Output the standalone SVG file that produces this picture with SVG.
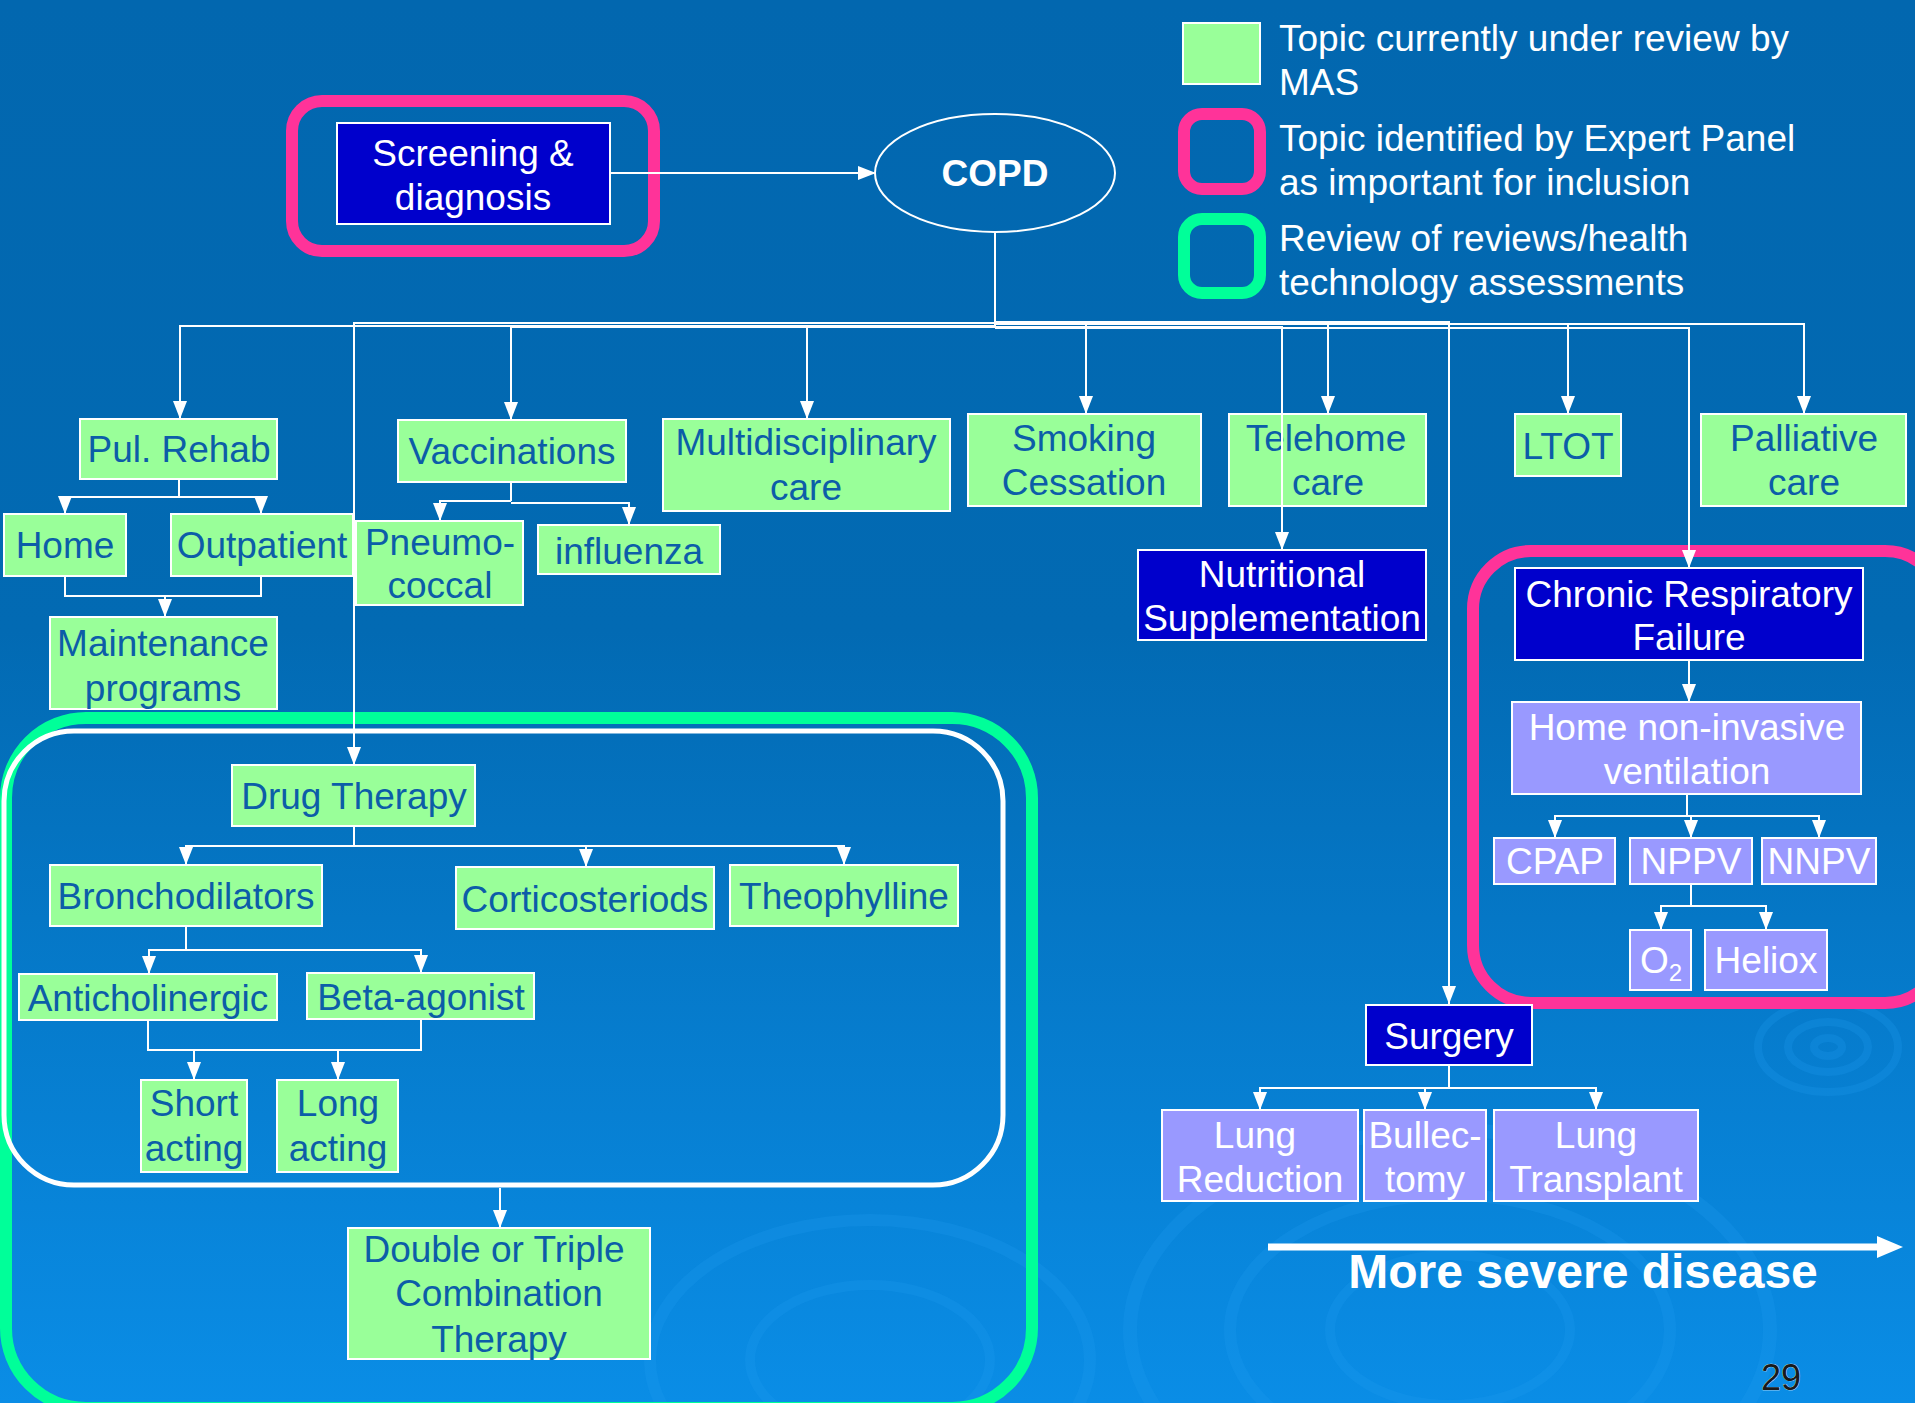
<svg xmlns="http://www.w3.org/2000/svg" width="1915" height="1403" viewBox="0 0 1915 1403">
<defs>
<linearGradient id="bg" x1="0" y1="0" x2="0" y2="1">
<stop offset="0" stop-color="#0267AF"/>
<stop offset="0.45" stop-color="#026AB3"/>
<stop offset="1" stop-color="#0A8DE6"/>
</linearGradient>
<marker id="ah" markerUnits="userSpaceOnUse" markerWidth="18" markerHeight="14" viewBox="0 0 18 14" refX="18" refY="7" orient="auto">
<path d="M0 0 L18 7 L0 14 Z" fill="#fff"/>
</marker>
<marker id="ar" markerUnits="userSpaceOnUse" markerWidth="18" markerHeight="14" viewBox="0 0 18 14" refX="18" refY="7" orient="auto">
<path d="M0 0 L18 7 L0 14 Z" fill="#fff"/>
</marker>
<style>
text{font-family:"Liberation Sans",Arial,sans-serif;font-size:37px;text-anchor:middle}
.g{fill:#99FF99;stroke:#fff;stroke-width:2}
.l{fill:#9999FF;stroke:#fff;stroke-width:2}
.d{fill:#0000CC;stroke:#fff;stroke-width:2}
.gt{fill:#0C5DA8}
.wt{fill:#fff}
.c{fill:none;stroke:#fff;stroke-width:2}
.cv{fill:none;stroke:#fff;stroke-width:2;marker-end:url(#ah)}
.lg{fill:#fff;text-anchor:start}
.big{font-size:48px;font-weight:bold}
.pg{font-size:36px;fill:#1a1a1a;stroke:#fff;stroke-width:0.6;paint-order:stroke}
.rip{fill:none;stroke:#1E9AF0;stroke-opacity:0.25}
</style>
</defs>
<rect x="0" y="0" width="1915" height="1403" fill="url(#bg)"/>
<g id="ripples">
<ellipse class="rip" cx="1828" cy="1047" rx="70" ry="45" stroke-width="8"/>
<ellipse class="rip" cx="1828" cy="1047" rx="40" ry="25" stroke-width="8"/>
<ellipse class="rip" cx="1828" cy="1047" rx="14" ry="9" stroke-width="8"/>
<ellipse class="rip" cx="1450" cy="1330" rx="320" ry="200" stroke-width="14"/>
<ellipse class="rip" cx="1450" cy="1330" rx="220" ry="135" stroke-width="12"/>
<ellipse class="rip" cx="1450" cy="1330" rx="120" ry="75" stroke-width="10"/>
<ellipse class="rip" cx="870" cy="1360" rx="220" ry="140" stroke-width="12"/>
<ellipse class="rip" cx="870" cy="1360" rx="120" ry="75" stroke-width="10"/>
</g>
<g id="legend">
<rect x="1183" y="23" width="77" height="61" fill="#99FF99" stroke="#fff" stroke-width="2"/>
<rect x="1184" y="114" width="76" height="75" rx="18" fill="none" stroke="#FF3399" stroke-width="12"/>
<rect x="1184" y="219" width="76" height="74" rx="18" fill="none" stroke="#00FF99" stroke-width="12"/>
<text class="lg" x="1279" y="51">Topic currently under review by</text>
<text class="lg" x="1279" y="95">MAS</text>
<text class="lg" x="1279" y="151">Topic identified by Expert Panel</text>
<text class="lg" x="1279" y="195">as important for inclusion</text>
<text class="lg" x="1279" y="251">Review of reviews/health</text>
<text class="lg" x="1279" y="295">technology assessments</text>
</g>
<g id="groups">
<rect x="292" y="101" width="362" height="150" rx="30" fill="none" stroke="#FF3399" stroke-width="12"/>
<rect x="1473" y="551" width="470" height="452" rx="58" fill="none" stroke="#FF3399" stroke-width="12"/>
<rect x="6" y="718" width="1026" height="690" rx="80" fill="none" stroke="#00FF99" stroke-width="12"/>
<rect x="4" y="731" width="999" height="454" rx="70" fill="none" stroke="#fff" stroke-width="5"/>
</g>
<g id="screening"><rect class="d" x="337" y="123" width="273" height="101"/><text class="wt" x="473" y="166">Screening &amp;</text><text class="wt" x="473" y="210">diagnosis</text></g>
<g id="copd"><ellipse cx="995" cy="173" rx="120" ry="59" fill="none" stroke="#fff" stroke-width="2"/><text class="wt" x="995" y="186" font-weight="bold">COPD</text></g>
<g id="pulrehab"><rect class="g" x="80" y="419" width="197" height="60"/><text class="gt" x="179" y="462">Pul. Rehab</text></g>
<g id="home"><rect class="g" x="4" y="514" width="122" height="62"/><text class="gt" x="65" y="558">Home</text></g>
<g id="outpatient"><rect class="g" x="171" y="514" width="182" height="62"/><text class="gt" x="262" y="558">Outpatient</text></g>
<g id="maintenance"><rect class="g" x="50" y="617" width="227" height="92"/><text class="gt" x="163" y="656">Maintenance</text><text class="gt" x="163" y="701">programs</text></g>
<g id="vaccinations"><rect class="g" x="398" y="420" width="228" height="62"/><text class="gt" x="512" y="464">Vaccinations</text></g>
<g id="pneumococcal"><rect class="g" x="356" y="521" width="167" height="84"/><text class="gt" x="440" y="555">Pneumo-</text><text class="gt" x="440" y="598">coccal</text></g>
<g id="influenza"><rect class="g" x="538" y="525" width="182" height="49"/><text class="gt" x="629" y="564">influenza</text></g>
<g id="multidisciplinary"><rect class="g" x="663" y="419" width="287" height="92"/><text class="gt" x="806" y="455">Multidisciplinary</text><text class="gt" x="806" y="500">care</text></g>
<g id="smoking"><rect class="g" x="968" y="414" width="233" height="92"/><text class="gt" x="1084" y="451">Smoking</text><text class="gt" x="1084" y="495">Cessation</text></g>
<g id="telehome"><rect class="g" x="1229" y="414" width="197" height="92"/><text class="gt" x="1326" y="451">Telehome</text><text class="gt" x="1328" y="495">care</text></g>
<g id="ltot"><rect class="g" x="1515" y="414" width="106" height="62"/><text class="gt" x="1568" y="459">LTOT</text></g>
<g id="palliative"><rect class="g" x="1701" y="414" width="205" height="92"/><text class="gt" x="1804" y="451">Palliative</text><text class="gt" x="1804" y="495">care</text></g>
<g id="nutritional"><rect class="d" x="1138" y="550" width="288" height="90"/><text class="wt" x="1282" y="587">Nutritional</text><text class="wt" x="1282" y="631">Supplementation</text></g>
<g id="crf"><rect class="d" x="1515" y="568" width="348" height="92"/><text class="wt" x="1689" y="607">Chronic Respiratory</text><text class="wt" x="1689" y="650">Failure</text></g>
<g id="hniv"><rect class="l" x="1512" y="702" width="349" height="92"/><text class="wt" x="1687" y="740">Home non-invasive</text><text class="wt" x="1687" y="784">ventilation</text></g>
<g id="cpap"><rect class="l" x="1494" y="838" width="121" height="46"/><text class="wt" x="1555" y="874">CPAP</text></g>
<g id="nppv"><rect class="l" x="1630" y="838" width="122" height="46"/><text class="wt" x="1691" y="874">NPPV</text></g>
<g id="nnpv"><rect class="l" x="1762" y="838" width="114" height="46"/><text class="wt" x="1819" y="874">NNPV</text></g>
<g id="o2"><rect class="l" x="1630" y="930" width="61" height="60"/><text class="wt" x="1661" y="973">O<tspan font-size="24" dy="8">2</tspan></text></g>
<g id="heliox"><rect class="l" x="1705" y="930" width="122" height="60"/><text class="wt" x="1766" y="973">Heliox</text></g>
<g id="surgery"><rect class="d" x="1366" y="1005" width="166" height="60"/><text class="wt" x="1449" y="1049">Surgery</text></g>
<g id="lungreduction"><rect class="l" x="1162" y="1110" width="196" height="91"/><text class="wt" x="1255" y="1148">Lung</text><text class="wt" x="1260" y="1192">Reduction</text></g>
<g id="bullectomy"><rect class="l" x="1364" y="1110" width="122" height="91"/><text class="wt" x="1425" y="1148">Bullec-</text><text class="wt" x="1425" y="1192">tomy</text></g>
<g id="lungtransplant"><rect class="l" x="1494" y="1110" width="204" height="91"/><text class="wt" x="1596" y="1148">Lung</text><text class="wt" x="1596" y="1192">Transplant</text></g>
<g id="drugtherapy"><rect class="g" x="232" y="765" width="243" height="61"/><text class="gt" x="354" y="809">Drug Therapy</text></g>
<g id="bronchodilators"><rect class="g" x="50" y="865" width="272" height="61"/><text class="gt" x="186" y="909">Bronchodilators</text></g>
<g id="corticosteriods"><rect class="g" x="456" y="867" width="258" height="62"/><text class="gt" x="585" y="912">Corticosteriods</text></g>
<g id="theophylline"><rect class="g" x="730" y="865" width="228" height="61"/><text class="gt" x="844" y="909">Theophylline</text></g>
<g id="anticholinergic"><rect class="g" x="19" y="974" width="258" height="46"/><text class="gt" x="148" y="1011">Anticholinergic</text></g>
<g id="betaagonist"><rect class="g" x="307" y="973" width="227" height="46"/><text class="gt" x="421" y="1010">Beta-agonist</text></g>
<g id="shortacting"><rect class="g" x="141" y="1080" width="106" height="92"/><text class="gt" x="194" y="1116">Short</text><text class="gt" x="194" y="1161">acting</text></g>
<g id="longacting"><rect class="g" x="277" y="1080" width="121" height="92"/><text class="gt" x="338" y="1116">Long</text><text class="gt" x="338" y="1161">acting</text></g>
<g id="combination"><rect class="g" x="348" y="1228" width="302" height="131"/><text class="gt" x="494" y="1262">Double or Triple</text><text class="gt" x="499" y="1306">Combination</text><text class="gt" x="499" y="1352">Therapy</text></g>
<g id="connectors">
<path class="c" d="M610 173 H876" marker-end="url(#ar)"/>
<path class="c" d="M995 232 V328"/>
<path class="cv" d="M995 326 H180 V419"/>
<path class="cv" d="M995 323 H354 V765"/>
<path class="cv" d="M995 327 H511 V420"/>
<path class="cv" d="M807 327 V419"/>
<path class="cv" d="M995 324 H1086 V414"/>
<path class="cv" d="M1328 324 V414"/>
<path class="cv" d="M1568 324 V414"/>
<path class="cv" d="M995 324 H1804 V414"/>
<path class="cv" d="M995 327 H1282 V550"/>
<path class="cv" d="M995 328 H1689 V568"/>
<path class="cv" d="M995 322 H1449 V1004"/>
<path class="c" d="M179 479 V497"/>
<path class="cv" d="M179 497 H65 V514"/>
<path class="cv" d="M179 497 H261 V514"/>
<path class="c" d="M65 576 V596 H261 V576"/>
<path class="cv" d="M165 596 V617"/>
<path class="c" d="M511 482 V501"/>
<path class="cv" d="M511 501 H440 V521"/>
<path class="cv" d="M511 503 H629 V525"/>
<path class="c" d="M354 826 V846"/>
<path class="cv" d="M354 846 H186 V865"/>
<path class="cv" d="M354 846 H586 V867"/>
<path class="cv" d="M354 846 H844 V865"/>
<path class="c" d="M186 926 V950"/>
<path class="cv" d="M186 950 H149 V974"/>
<path class="cv" d="M186 950 H421 V973"/>
<path class="c" d="M148 1020 V1050 H421 V1019"/>
<path class="cv" d="M194 1050 V1080"/>
<path class="cv" d="M338 1050 V1080"/>
<path class="cv" d="M500 1188 V1228"/>
<path class="cv" d="M1689 660 V702"/>
<path class="c" d="M1687 794 V816"/>
<path class="cv" d="M1687 816 H1555 V838"/>
<path class="cv" d="M1687 816 H1691 V838"/>
<path class="cv" d="M1687 816 H1819 V838"/>
<path class="c" d="M1691 884 V906"/>
<path class="cv" d="M1691 906 H1661 V930"/>
<path class="cv" d="M1691 906 H1766 V930"/>
<path class="c" d="M1449 1065 V1088"/>
<path class="cv" d="M1449 1088 H1260 V1110"/>
<path class="cv" d="M1449 1088 H1425 V1110"/>
<path class="cv" d="M1449 1088 H1596 V1110"/>
</g>
<g id="severity">
<path d="M1268 1247 H1880" stroke="#fff" stroke-width="7" fill="none"/>
<path d="M1877 1236 L1903 1247 L1877 1258 Z" fill="#fff"/>
<text class="wt big" x="1583" y="1288">More severe disease</text>
</g>
<text class="pg" x="1781" y="1390">29</text>
</svg>
